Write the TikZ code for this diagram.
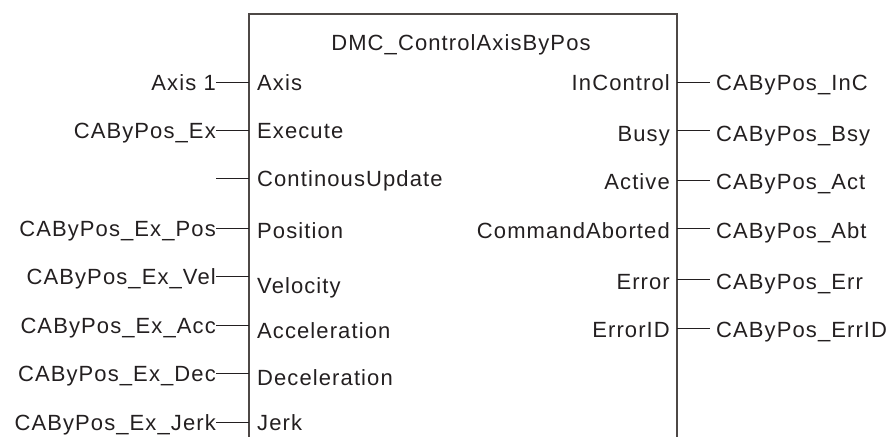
\documentclass[tikz,border=0pt]{standalone}
\usepackage{fontspec}
\setmainfont{Liberation Sans}[LetterSpace=5]
\definecolor{fbtext}{RGB}{35,31,32}
\definecolor{fbbox}{RGB}{77,72,70}
\tikzset{
  pinlabel/.style={inner sep=0pt, text height=16pt, text depth=0pt, text=fbtext,
    font=\fontsize{22}{26}\selectfont},
  wire/.style={draw=fbtext, line width=1pt},
  fbframe/.style={draw=fbbox, line width=1.8pt}
}
\begin{document}
\begin{tikzpicture}[x=1pt,y=-1pt]
        \useasboundingbox (0,0) rectangle (893,436);
        \clip (0,0) rectangle (893,436);

        % 功能块外框 (下边被截去)
        \draw[fbframe] (249,460) -- (249,14) -- (677,14) -- (677,460);
        \node[pinlabel] (title) at (461,42) {DMC\_ControlAxisByPos};

        % 输入引脚
        \foreach \i/\y/\d/\pin/\var in {1/82/0/Axis/Axis 1, 2/130/0/Execute/CAByPos\_Ex,
            3/178/0/ContinousUpdate/, 4/228/2/Position/CAByPos\_Ex\_Pos,
            5/276/9/Velocity/CAByPos\_Ex\_Vel, 6/325/5/Acceleration/CAByPos\_Ex\_Acc,
            7/373/4/Deceleration/CAByPos\_Ex\_Dec, 8/422/0/Jerk/CAByPos\_Ex\_Jerk}
        {
            \coordinate (pL\i) at (249,\y);
            \node[pinlabel, anchor=west] (inL\i) at (257,\y+\d) {\pin};
            \node[pinlabel, anchor=east] (varL\i) at (216,\y) {\var};
            \draw[wire] (varL\i.east) -- (pL\i);
        }

        % 输出引脚
        \foreach \i/\y/\d/\pin/\var in {1/82/0/InControl/CAByPos\_InC, 2/130/3/Busy/CAByPos\_Bsy,
            3/180/1/Active/CAByPos\_Act, 4/228/2/CommandAborted/CAByPos\_Abt,
            5/279/2/Error/CAByPos\_Err, 6/328/1/ErrorID/CAByPos\_ErrID}
        {
            \coordinate (pR\i) at (677,\y);
            \node[pinlabel, anchor=east] (outR\i) at (670,\y+\d) {\pin};
            \node[pinlabel, anchor=west] (varR\i) at (716,\y+\d) {\var};
            \draw[wire, shorten >=6pt] (pR\i) -- (pR\i -| varR\i.west);
        }
    \end{tikzpicture}
\end{document}
